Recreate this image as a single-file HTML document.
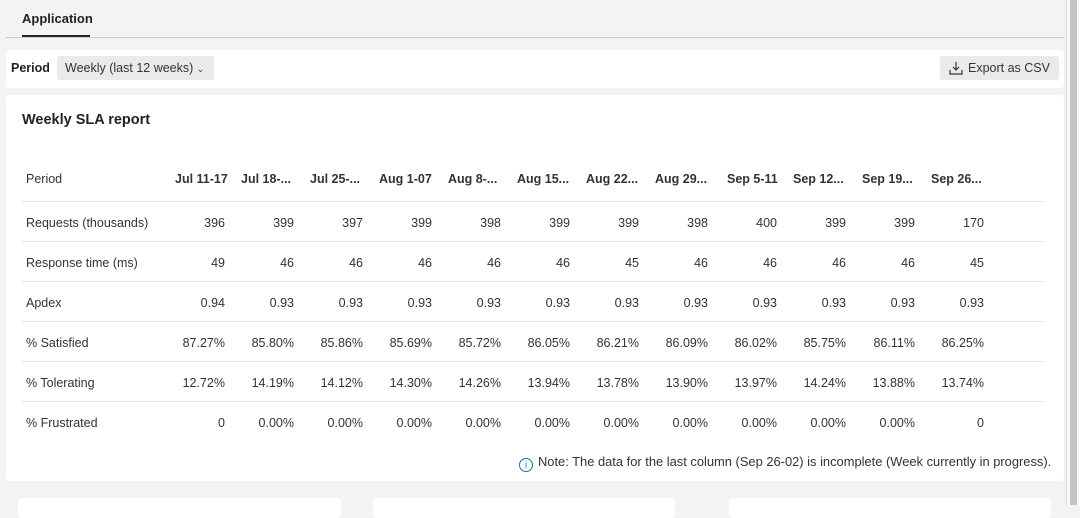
<!DOCTYPE html>
<html><head><meta charset="utf-8"><style>
body{margin:0;width:1080px;height:505px;background:#f3f3f3;font-family:"Liberation Sans",sans-serif;color:#333;position:relative;overflow:hidden}
.a{position:absolute;white-space:nowrap}
.panel{position:absolute;background:#fff;border-radius:4px}
.cell{position:absolute;font-size:12.5px;color:#333;white-space:nowrap}
</style></head><body>
<div class="a" style="left:22px;top:11px;font-size:13px;font-weight:bold;color:#222">Application</div>
<div class="a" style="left:22px;top:35px;width:68px;height:2px;background:#222"></div>
<div class="a" style="left:6px;top:37px;width:1058px;height:1px;background:#ccc"></div>
<div class="a" style="left:1066px;top:0;width:14px;height:505px;background:#fafafa;border-left:1px solid #ddd"><div style="position:absolute;left:3px;top:0;width:7px;height:505px;background:#c4c4c4"></div></div>

<div class="panel" style="left:6px;top:50px;width:1058px;height:38px"></div>
<div class="a" style="left:11px;top:61px;font-size:12.5px;font-weight:bold;color:#222">Period</div>
<div class="a" style="left:57px;top:56px;width:157px;height:24px;background:#e8eaeb;border-radius:3px;font-size:12.5px;line-height:24px;padding-left:8px;box-sizing:border-box;color:#333">Weekly (last 12 weeks) <span style="font-size:9px">⌄</span></div>
<div class="a" style="left:940px;top:56px;width:119px;height:24px;background:#e8eaeb;border-radius:3px;font-size:12.5px;line-height:24px;color:#333">
<svg style="position:absolute;left:9px;top:5px" width="14" height="14" viewBox="0 0 14 14" fill="none" stroke="#333" stroke-width="1.2"><path d="M7 1v8M4 6l3 3 3-3M1 9v4h12V9"/></svg>
<span style="position:absolute;left:28px">Export as CSV</span></div>

<div class="panel" style="left:6px;top:95px;width:1058px;height:386px"></div>
<div class="a" style="left:22px;top:112px;font-size:14.5px;font-weight:bold;color:#222">Weekly SLA report</div>
<div id="tbl"></div>
<div class="a" style="left:519px;top:454px;font-size:12.9px;color:#333"><span style="display:inline-block;width:12px;height:12px;border:1px solid #1a73a8;border-radius:50%;font-size:9px;line-height:12px;text-align:center;color:#1a73a8;vertical-align:-2px;margin-right:5px">i</span>Note: The data for the last column (Sep 26-02) is incomplete (Week currently in progress).</div>

<div class="panel" style="left:18px;top:498px;width:323px;height:20px"></div>
<div class="panel" style="left:373px;top:498px;width:302px;height:20px"></div>
<div class="panel" style="left:729px;top:498px;width:322px;height:20px"></div>

<script>
const periods=["Jul 11-17","Jul 18-...","Jul 25-...","Aug 1-07","Aug 8-...","Aug 15...","Aug 22...","Aug 29...","Sep 5-11","Sep 12...","Sep 19...","Sep 26..."];
const rowLabels=["Requests (thousands)","Response time (ms)","Apdex","% Satisfied","% Tolerating","% Frustrated"];
const requests=["396","399","397","399","398","399","399","398","400","399","399","170"];
const responseTime=["49","46","46","46","46","46","45","46","46","46","46","45"];
const apdex=["0.94","0.93","0.93","0.93","0.93","0.93","0.93","0.93","0.93","0.93","0.93","0.93"];
const satisfied=["87.27%","85.80%","85.86%","85.69%","85.72%","86.05%","86.21%","86.09%","86.02%","85.75%","86.11%","86.25%"];
const tolerating=["12.72%","14.19%","14.12%","14.30%","14.26%","13.94%","13.78%","13.90%","13.97%","14.24%","13.88%","13.74%"];
const frustrated=["0","0.00%","0.00%","0.00%","0.00%","0.00%","0.00%","0.00%","0.00%","0.00%","0.00%","0"];
const rows=[requests,responseTime,apdex,satisfied,tolerating,frustrated];
const root=document.getElementById('tbl');
const headLeft=[175,241,310,379,448,517,586,655,727,793,862,931];
function colRight(i){return 225+69*i;}
function rowY(r){return 216+40*r;}
function add(txt,style){const d=document.createElement('div');d.className='cell';d.textContent=txt;Object.assign(d.style,style);root.appendChild(d);return d;}
let h=add("Period",{left:'26px',top:'172px'});


periods.forEach((p,i)=>{const e=add(p,{left:headLeft[i]+'px',top:'172px',fontWeight:'bold'});

});
rows.forEach((vals,r)=>{
 const ln=document.createElement('div');ln.className='a';Object.assign(ln.style,{left:'22px',top:(rowY(r)-15)+'px',width:'1022px',height:'1px',background:'#e6e6e6'});
 
 
 root.appendChild(ln);
 const l=add(rowLabels[r],{left:'26px',top:rowY(r)+'px'});
 
 
 vals.forEach((v,i)=>{const c=add(v,{right:(1080-colRight(i))+'px',top:rowY(r)+'px'});
 
 });
});
</script>
</body></html>
